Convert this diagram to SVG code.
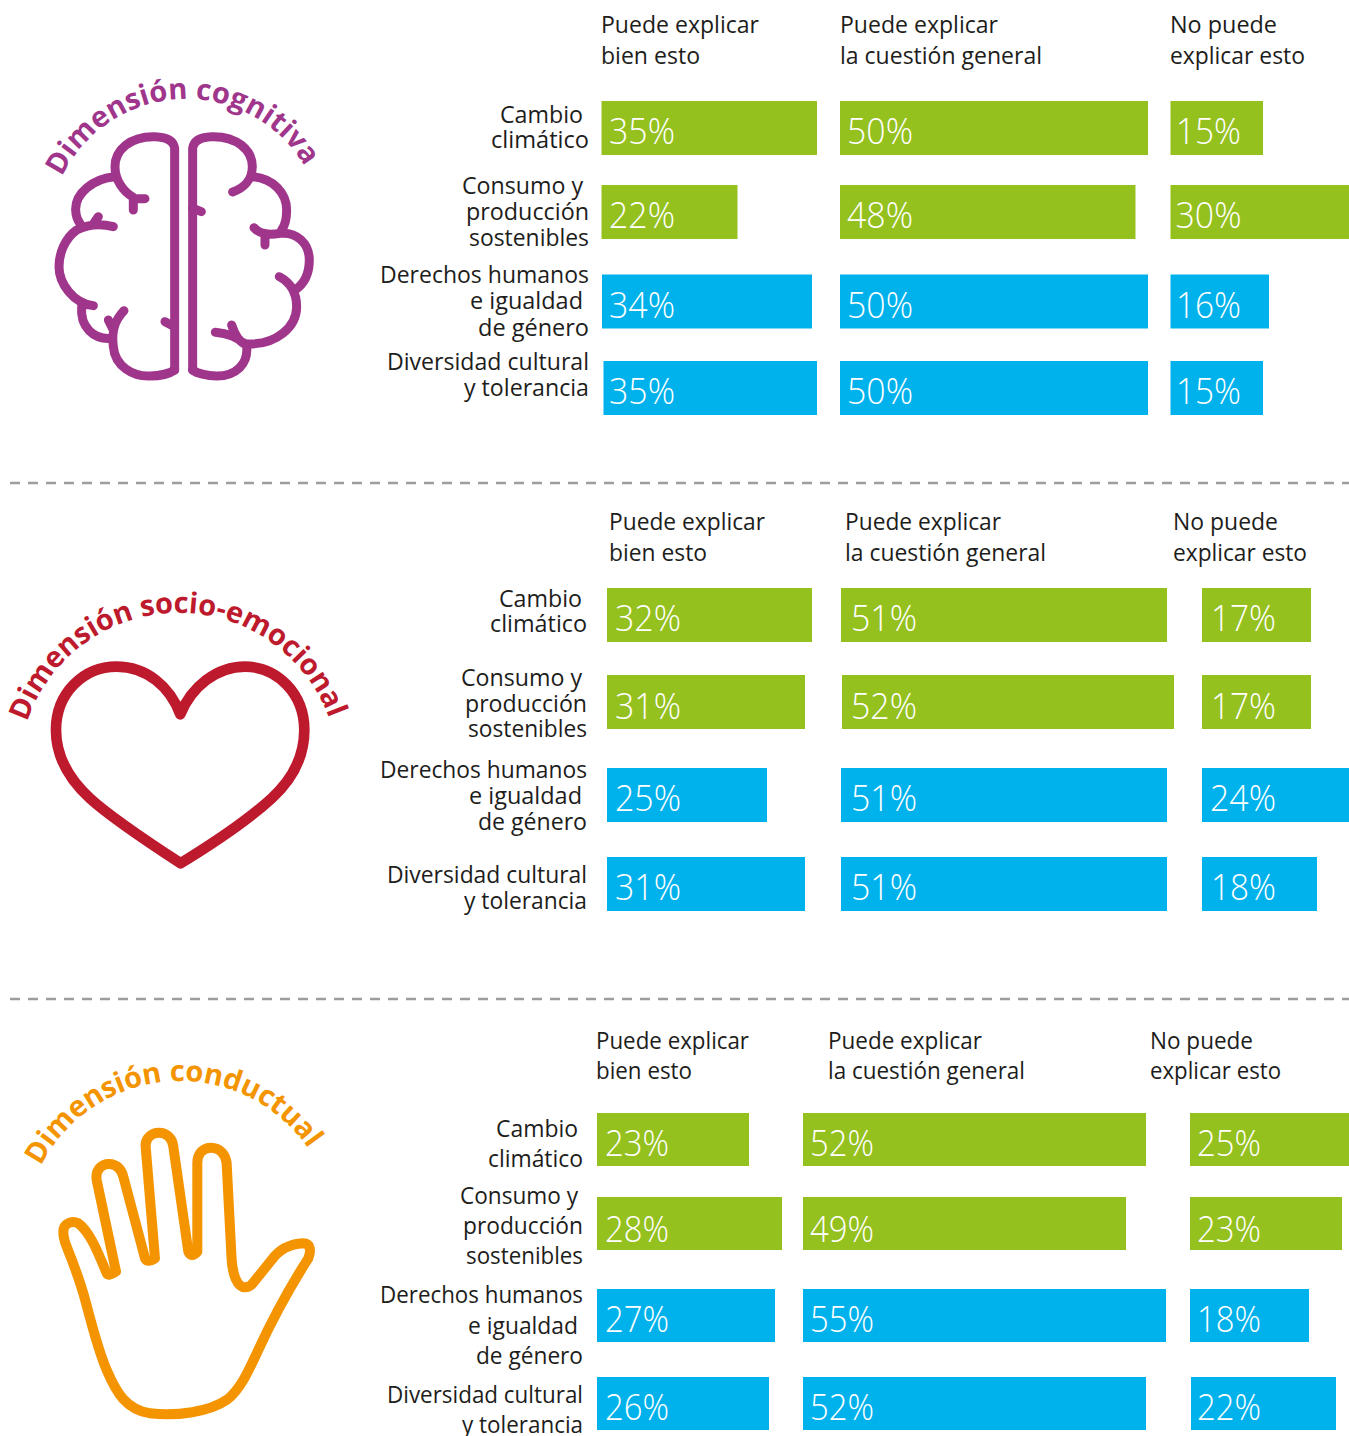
<svg xmlns="http://www.w3.org/2000/svg" width="1349" height="1436" viewBox="0 0 1349 1436">
<style>
text{font-family:"Open Sans","Noto Sans","Liberation Sans",sans-serif}
.t{font-size:24px;fill:#1d1d1b}
.p{font-size:36px;font-weight:300;fill:#fff}
.g{fill:#95c11f}
.b{fill:#00b2ec}
.d{stroke:#9d9d9d;stroke-width:2.5;stroke-dasharray:10 8;fill:none}
.i{fill:none;stroke-linecap:round;stroke-linejoin:round}
.h{font-weight:700;font-size:29px}
</style>
<defs>
<path id="a1" d="M62 177A138 138 0 0 1 308 172"/>
<path id="a2" d="M27 722A160 160 0 0 1 329 718"/>
<path id="a3" d="M41 1166A156 156 0 0 1 310 1151"/>
</defs>
<rect width="1349" height="1436" fill="#fff"/>
<g id="separadores">
<path class="d" d="M10 483H1349M10 999H1349"/>
</g>
<g id="cognitiva">
<text class="h" fill="#a0368b"><textPath href="#a1" textLength="297" lengthAdjust="spacingAndGlyphs">Dimensión cognitiva</textPath></text>
<g class="i" stroke="#a0368b" stroke-width="27" transform="translate(30 60) scale(.3333)">
<path d="M434 930V265Q430 232 375 230C300 228 255 270 255 320C255 360 280 395 310 412M345 416H310V450"/>
<path d="M255 350C190 355 135 400 137 450Q138 475 150 490M250 500C210 490 170 495 140 510C105 535 87 580 87 620C87 670 130 730 190 737M205 470L190 492"/>
<path d="M155 740C150 800 190 840 245 835M282 752C250 785 245 820 250 860C255 920 310 950 360 948C390 948 420 940 434 930M235 780L250 810M405 785L434 800"/>
<path d="M488 930V265Q492 232 545 230C620 228 667 270 667 320C667 360 640 385 608 396M667 350C730 355 770 400 770 450Q770 490 755 510"/>
<path d="M672 503C690 525 720 525 750 520C800 515 838 550 838 600C838 640 825 670 795 690M705 555V525M748 650C785 670 800 700 800 740C800 800 740 855 650 852C630 850 615 825 605 795M556 817C590 820 620 830 640 850M650 860C655 910 620 948 560 948C530 948 500 940 488 930M514 455L488 445"/>
</g>
</g>
<g id="socioemocional">
<text class="h" fill="#be1a2e"><textPath href="#a2" textLength="395" lengthAdjust="spacing">Dimensión socio-emocional</textPath></text>
<path class="i" stroke="#be1a2e" stroke-width="32" transform="translate(0 580) scale(.3333)" d="M541 403C510 320 440 260 350 260C250 260 168 340 168 450C168 530 210 600 270 655C330 710 450 790 542 850C640 790 750 715 815 655C875 600 913 530 913 450C913 340 830 260 735 260C650 260 575 320 541 403Z"/>
</g>
<g id="conductual">
<text class="h" fill="#f39400"><textPath href="#a3" textLength="322" lengthAdjust="spacing">Dimensión conductual</textPath></text>
<path class="i" stroke="#f39400" stroke-width="30" transform="translate(10 1050) scale(.3333)" d="M160 545C160 520 185 510 205 520C240 545 265 610 290 670Q295 680 318 665L260 390C255 355 280 340 300 342C325 345 335 360 340 380L405 625Q412 640 435 625L407 290C405 265 425 248 447 248C470 248 488 265 490 290L535 605Q545 625 562 605V340C562 310 580 293 603 293C630 293 648 315 650 340L665 630C668 670 680 712 705 712C720 712 725 705 730 698L785 630C810 595 840 582 880 580C900 580 905 600 895 625C860 680 800 780 745 900C715 965 690 1020 650 1050C600 1085 500 1100 420 1090C350 1080 320 1030 290 960C260 890 240 800 220 730C205 680 190 640 170 590Q160 565 160 545Z"/>
</g>
<g id="seccion-1">
<text class="t" x="601" y="33" textLength="158" lengthAdjust="spacingAndGlyphs">Puede explicar</text>
<text class="t" x="601" y="64" textLength="99" lengthAdjust="spacingAndGlyphs">bien esto</text>
<text class="t" x="840" y="33" textLength="158" lengthAdjust="spacingAndGlyphs">Puede explicar</text>
<text class="t" x="840" y="64" textLength="202" lengthAdjust="spacingAndGlyphs">la cuestión general</text>
<text class="t" x="1170" y="33" textLength="107" lengthAdjust="spacingAndGlyphs">No puede</text>
<text class="t" x="1170" y="64" textLength="135" lengthAdjust="spacingAndGlyphs">explicar esto</text>
<text class="t" x="500" y="123" textLength="83" lengthAdjust="spacingAndGlyphs">Cambio</text>
<text class="t" x="491" y="148" textLength="98" lengthAdjust="spacingAndGlyphs">climático</text>
<text class="t" x="462" y="194" textLength="121" lengthAdjust="spacingAndGlyphs">Consumo y</text>
<text class="t" x="466" y="220" textLength="123" lengthAdjust="spacingAndGlyphs">producción</text>
<text class="t" x="469" y="246" textLength="120" lengthAdjust="spacingAndGlyphs">sostenibles</text>
<text class="t" x="380" y="283" textLength="209" lengthAdjust="spacingAndGlyphs">Derechos humanos</text>
<text class="t" x="470" y="309" textLength="113" lengthAdjust="spacingAndGlyphs">e igualdad</text>
<text class="t" x="478" y="336" textLength="111" lengthAdjust="spacingAndGlyphs">de género</text>
<text class="t" x="387" y="370" textLength="202" lengthAdjust="spacingAndGlyphs">Diversidad cultural</text>
<text class="t" x="464" y="396" textLength="125" lengthAdjust="spacingAndGlyphs">y tolerancia</text>
<rect class="g" x="601.500" y="101" width="215.500" height="54"/><rect class="g" x="840" y="101" width="308" height="54"/><rect class="g" x="1170.500" y="101" width="92.500" height="54"/>
<rect class="g" x="601.500" y="185" width="136" height="54"/><rect class="g" x="840" y="185" width="295.500" height="54"/><rect class="g" x="1170.500" y="185" width="178.500" height="54"/>
<rect class="b" x="602" y="274.500" width="210" height="54"/><rect class="b" x="840" y="274.500" width="308" height="54"/><rect class="b" x="1170.500" y="274.500" width="98.500" height="54"/>
<rect class="b" x="603.500" y="361" width="213.500" height="54"/><rect class="b" x="840" y="361" width="308" height="54"/><rect class="b" x="1170.500" y="361" width="92.500" height="54"/>
<text class="p" x="609" y="144" textLength="66" lengthAdjust="spacingAndGlyphs">35%</text><text class="p" x="847" y="144" textLength="66" lengthAdjust="spacingAndGlyphs">50%</text><text class="p" x="1176" y="144" textLength="65" lengthAdjust="spacingAndGlyphs">15%</text>
<text class="p" x="609" y="228" textLength="66" lengthAdjust="spacingAndGlyphs">22%</text><text class="p" x="847" y="228" textLength="66" lengthAdjust="spacingAndGlyphs">48%</text><text class="p" x="1175.500" y="228" textLength="66" lengthAdjust="spacingAndGlyphs">30%</text>
<text class="p" x="609" y="318" textLength="66" lengthAdjust="spacingAndGlyphs">34%</text><text class="p" x="847" y="318" textLength="66" lengthAdjust="spacingAndGlyphs">50%</text><text class="p" x="1176" y="318" textLength="65" lengthAdjust="spacingAndGlyphs">16%</text>
<text class="p" x="609" y="404" textLength="66" lengthAdjust="spacingAndGlyphs">35%</text><text class="p" x="847" y="404" textLength="66" lengthAdjust="spacingAndGlyphs">50%</text><text class="p" x="1176" y="404" textLength="65" lengthAdjust="spacingAndGlyphs">15%</text>
</g>
<g id="seccion-2">
<text class="t" x="609" y="530" textLength="156" lengthAdjust="spacingAndGlyphs">Puede explicar</text>
<text class="t" x="609" y="561" textLength="98" lengthAdjust="spacingAndGlyphs">bien esto</text>
<text class="t" x="845" y="530" textLength="156" lengthAdjust="spacingAndGlyphs">Puede explicar</text>
<text class="t" x="845" y="561" textLength="201" lengthAdjust="spacingAndGlyphs">la cuestión general</text>
<text class="t" x="1173" y="530" textLength="105" lengthAdjust="spacingAndGlyphs">No puede</text>
<text class="t" x="1173" y="561" textLength="134" lengthAdjust="spacingAndGlyphs">explicar esto</text>
<text class="t" x="499" y="607" textLength="83" lengthAdjust="spacingAndGlyphs">Cambio</text>
<text class="t" x="490" y="632" textLength="97" lengthAdjust="spacingAndGlyphs">climático</text>
<text class="t" x="461" y="686" textLength="121" lengthAdjust="spacingAndGlyphs">Consumo y</text>
<text class="t" x="465" y="712" textLength="122" lengthAdjust="spacingAndGlyphs">producción</text>
<text class="t" x="468" y="737" textLength="119" lengthAdjust="spacingAndGlyphs">sostenibles</text>
<text class="t" x="380" y="778" textLength="207" lengthAdjust="spacingAndGlyphs">Derechos humanos</text>
<text class="t" x="469" y="804" textLength="113" lengthAdjust="spacingAndGlyphs">e igualdad</text>
<text class="t" x="478" y="830" textLength="109" lengthAdjust="spacingAndGlyphs">de género</text>
<text class="t" x="387" y="883" textLength="200" lengthAdjust="spacingAndGlyphs">Diversidad cultural</text>
<text class="t" x="464" y="909" textLength="123" lengthAdjust="spacingAndGlyphs">y tolerancia</text>
<rect class="g" x="607" y="588" width="205" height="54"/><rect class="g" x="841" y="588" width="326" height="54"/><rect class="g" x="1202" y="588" width="109" height="54"/>
<rect class="g" x="607" y="675" width="198" height="54"/><rect class="g" x="842" y="675" width="332" height="54"/><rect class="g" x="1202" y="675" width="109" height="54"/>
<rect class="b" x="607" y="768" width="160" height="54"/><rect class="b" x="841" y="768" width="326" height="54"/><rect class="b" x="1202" y="768" width="147" height="54"/>
<rect class="b" x="607" y="857" width="198" height="54"/><rect class="b" x="841" y="857" width="326" height="54"/><rect class="b" x="1202" y="857" width="115" height="54"/>
<text class="p" x="615" y="631" textLength="66" lengthAdjust="spacingAndGlyphs">32%</text><text class="p" x="851" y="631" textLength="66" lengthAdjust="spacingAndGlyphs">51%</text><text class="p" x="1211" y="631" textLength="65" lengthAdjust="spacingAndGlyphs">17%</text>
<text class="p" x="615" y="719" textLength="66" lengthAdjust="spacingAndGlyphs">31%</text><text class="p" x="851" y="719" textLength="66" lengthAdjust="spacingAndGlyphs">52%</text><text class="p" x="1211" y="719" textLength="65" lengthAdjust="spacingAndGlyphs">17%</text>
<text class="p" x="615" y="811" textLength="66" lengthAdjust="spacingAndGlyphs">25%</text><text class="p" x="851" y="811" textLength="66" lengthAdjust="spacingAndGlyphs">51%</text><text class="p" x="1210" y="811" textLength="66" lengthAdjust="spacingAndGlyphs">24%</text>
<text class="p" x="615" y="900" textLength="66" lengthAdjust="spacingAndGlyphs">31%</text><text class="p" x="851" y="900" textLength="66" lengthAdjust="spacingAndGlyphs">51%</text><text class="p" x="1211" y="900" textLength="65" lengthAdjust="spacingAndGlyphs">18%</text>
</g>
<g id="seccion-3">
<text class="t" x="596" y="1049" textLength="153" lengthAdjust="spacingAndGlyphs">Puede explicar</text>
<text class="t" x="596" y="1079" textLength="96" lengthAdjust="spacingAndGlyphs">bien esto</text>
<text class="t" x="828" y="1049" textLength="154" lengthAdjust="spacingAndGlyphs">Puede explicar</text>
<text class="t" x="828" y="1079" textLength="197" lengthAdjust="spacingAndGlyphs">la cuestión general</text>
<text class="t" x="1150" y="1049" textLength="103" lengthAdjust="spacingAndGlyphs">No puede</text>
<text class="t" x="1150" y="1079" textLength="131" lengthAdjust="spacingAndGlyphs">explicar esto</text>
<text class="t" x="496" y="1137" textLength="82" lengthAdjust="spacingAndGlyphs">Cambio</text>
<text class="t" x="488" y="1167" textLength="95" lengthAdjust="spacingAndGlyphs">climático</text>
<text class="t" x="460" y="1204" textLength="118" lengthAdjust="spacingAndGlyphs">Consumo y</text>
<text class="t" x="463" y="1234" textLength="120" lengthAdjust="spacingAndGlyphs">producción</text>
<text class="t" x="466" y="1264" textLength="117" lengthAdjust="spacingAndGlyphs">sostenibles</text>
<text class="t" x="380" y="1303" textLength="203" lengthAdjust="spacingAndGlyphs">Derechos humanos</text>
<text class="t" x="468" y="1334" textLength="110" lengthAdjust="spacingAndGlyphs">e igualdad</text>
<text class="t" x="476" y="1364" textLength="107" lengthAdjust="spacingAndGlyphs">de género</text>
<text class="t" x="387" y="1403" textLength="196" lengthAdjust="spacingAndGlyphs">Diversidad cultural</text>
<text class="t" x="462" y="1433" textLength="121" lengthAdjust="spacingAndGlyphs">y tolerancia</text>
<rect class="g" x="597" y="1113" width="152" height="53"/><rect class="g" x="803" y="1113" width="343" height="53"/><rect class="g" x="1190" y="1113" width="159" height="53"/>
<rect class="g" x="597" y="1197" width="185" height="53"/><rect class="g" x="803" y="1197" width="323" height="53"/><rect class="g" x="1190" y="1197" width="152" height="53"/>
<rect class="b" x="597" y="1289" width="178" height="53"/><rect class="b" x="803" y="1289" width="363" height="53"/><rect class="b" x="1190" y="1289" width="119" height="53"/>
<rect class="b" x="597" y="1377" width="172" height="53"/><rect class="b" x="803" y="1377" width="343" height="53"/><rect class="b" x="1191" y="1377" width="145" height="53"/>
<text class="p" x="605" y="1156" textLength="64" lengthAdjust="spacingAndGlyphs">23%</text><text class="p" x="810" y="1156" textLength="64" lengthAdjust="spacingAndGlyphs">52%</text><text class="p" x="1197" y="1156" textLength="64" lengthAdjust="spacingAndGlyphs">25%</text>
<text class="p" x="605" y="1242" textLength="64" lengthAdjust="spacingAndGlyphs">28%</text><text class="p" x="810" y="1242" textLength="64" lengthAdjust="spacingAndGlyphs">49%</text><text class="p" x="1197" y="1242" textLength="64" lengthAdjust="spacingAndGlyphs">23%</text>
<text class="p" x="605" y="1332" textLength="64" lengthAdjust="spacingAndGlyphs">27%</text><text class="p" x="810" y="1332" textLength="64" lengthAdjust="spacingAndGlyphs">55%</text><text class="p" x="1197" y="1332" textLength="64" lengthAdjust="spacingAndGlyphs">18%</text>
<text class="p" x="605" y="1420" textLength="64" lengthAdjust="spacingAndGlyphs">26%</text><text class="p" x="810" y="1420" textLength="64" lengthAdjust="spacingAndGlyphs">52%</text><text class="p" x="1197" y="1420" textLength="64" lengthAdjust="spacingAndGlyphs">22%</text>
</g>
</svg>
